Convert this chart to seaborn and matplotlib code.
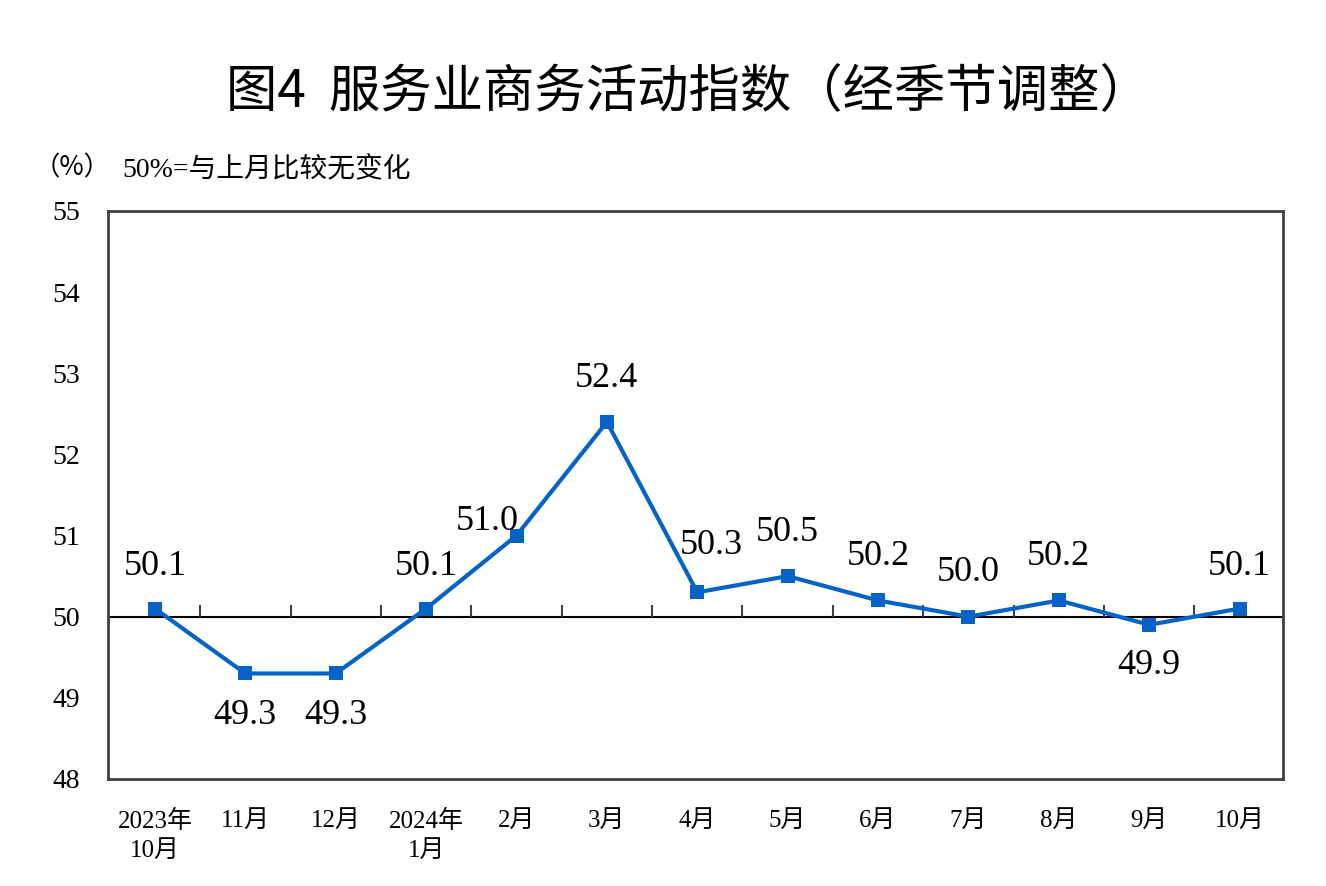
import numpy as np
import pandas as pd
import seaborn as sns
import matplotlib.pyplot as plt

# --- data ---
months = ["2023年\n10月", "11月", "12月", "2024年\n1月", "2月", "3月", "4月",
          "5月", "6月", "7月", "8月", "9月", "10月"]
index_values = [50.1, 49.3, 49.3, 50.1, 51.0, 52.4, 50.3, 50.5, 50.2, 50.0, 50.2, 49.9, 50.1]
y_ticks = [48, 49, 50, 51, 52, 53, 54, 55]

# label offsets in pixels (dx, dy) relative to each point
label_offsets = [(0, 42), (0, -42), (0, -42), (0, 42), (-29, 14), (0, 43), (14, 47),
                 (0, 44), (0, 44), (0, 44), (0, 44), (0, -41), (0, 42)]

sns.set_style("white")
plt.rcParams['font.family'] = ['Liberation Serif', 'Noto Sans CJK SC', 'DejaVu Sans']
plt.rcParams['text.color'] = 'black'
plt.rcParams['xtick.color'] = 'black'
plt.rcParams['ytick.color'] = 'black'

line_color = "#0563C8"
frame_color = "#404040"

df = pd.DataFrame({"pos": np.arange(len(months)), "value": index_values})

fig = plt.figure(figsize=(13.26, 8.86), dpi=100)
ax = fig.add_axes([0.0814, 0.1208, 0.8862, 0.6411])

# 50% reference line with small upward ticks between months
ax.axhline(50, color="black", lw=1.5, zorder=1)
mids = np.arange(len(months) - 1) + 0.5
ax.plot(mids, [50] * len(mids), linestyle="none", marker=2, markersize=9,
        markeredgewidth=1.5, color=frame_color, zorder=1)

sns.lineplot(data=df, x="pos", y="value", ax=ax, color=line_color, lw=3,
             marker="s", markersize=10, markeredgewidth=0, zorder=3)

for i, v in enumerate(index_values):
    dx, dy = label_offsets[i]
    ax.annotate(f"{v:.1f}", (i, v), xytext=(dx, dy), textcoords="offset pixels",
                ha="center", va="center", fontsize=26, family="Liberation Serif")

ax.set_xlim(-0.52, len(months) - 1 + 0.48)
ax.set_ylim(48, 55)
ax.set_yticks(y_ticks)
ax.set_yticklabels([str(t) for t in y_ticks], fontsize=20)
ax.set_xticks(np.arange(len(months)))
ax.set_xticklabels(months, fontsize=18, linespacing=1.4)
ax.tick_params(axis="x", length=0, pad=22)
ax.tick_params(axis="y", direction="in", length=7, width=1.5, color=frame_color,
               labelcolor="black", pad=20)
ax.set_xlabel("")
ax.set_ylabel("")

for s in ax.spines.values():
    s.set_color(frame_color)
    s.set_linewidth(2)

fig.text(0.519, 1 - 92 / 886, "图4  服务业商务活动指数（经季节调整）", ha="center", va="center",
         fontsize=37, fontweight="medium", family=["Noto Sans CJK SC", "DejaVu Sans"])
fig.text(72 / 1326, 1 - 168 / 886, "（%）", ha="center", va="center", fontsize=19,
         family=["Noto Sans CJK SC", "Liberation Serif"])
fig.text(122 / 1326, 1 - 170 / 886, "50%=与上月比较无变化", ha="left", va="center", fontsize=20,
         family=["Liberation Serif", "Noto Sans CJK SC"])

fig.savefig("out.png", dpi=100)
